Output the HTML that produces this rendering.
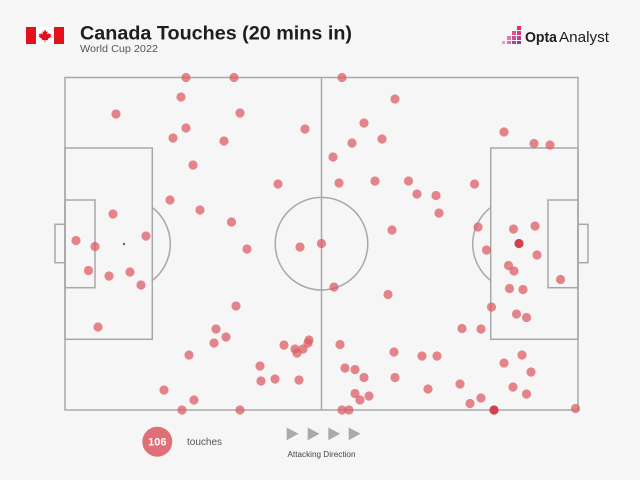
<!DOCTYPE html>
<html><head><meta charset="utf-8"><style>
html,body{margin:0;padding:0;background:#f6f6f6;}
svg{display:block;}
</style></head><body>
<svg width="640" height="480" viewBox="0 0 640 480" xmlns="http://www.w3.org/2000/svg">
<defs>
<marker id="dot" markerWidth="10" markerHeight="10" refX="5" refY="5" markerUnits="userSpaceOnUse" overflow="visible">
<circle cx="5" cy="5" r="4.6" fill="#dc5c66" fill-opacity="0.75"/>
</marker>
</defs>
<rect x="0" y="0" width="640" height="480" fill="#f6f6f6"/>
<rect x="26" y="27" width="38" height="17" fill="#ffffff"/>
<rect x="26" y="27" width="10" height="17" fill="#e3101e"/>
<rect x="54" y="27" width="10" height="17" fill="#e3101e"/>
<path d="M45 29.5 L46.3 32 L47.6 31.3 L47.2 34.5 L49 33 L49.5 34.2 L51.2 33.8 L50.5 36 L51.5 36.5 L47.8 39 L48.2 40.3 L45.4 40 L45.4 42.5 L44.6 42.5 L44.6 40 L41.8 40.3 L42.2 39 L38.5 36.5 L39.5 36 L38.8 33.8 L40.5 34.2 L41 33 L42.8 34.5 L42.4 31.3 L43.7 32 Z" fill="#e3101e"/>
<text x="80" y="39.5" font-family="Liberation Sans, sans-serif" font-weight="bold" font-size="19" fill="#1e1e1e" textLength="272" lengthAdjust="spacingAndGlyphs">Canada Touches (20 mins in)</text>
<text x="80" y="52" font-family="Liberation Sans, sans-serif" font-size="10" fill="#555" textLength="78" lengthAdjust="spacingAndGlyphs">World Cup 2022</text>
<g>
<rect x="517" y="26" width="4" height="4" fill="#e0306a"/>
<rect x="517" y="31" width="4" height="4" fill="#d23a80"/>
<rect x="512" y="31" width="4" height="4" fill="#e0508a"/>
<rect x="517" y="36" width="4" height="4" fill="#b53f9a"/>
<rect x="512" y="36" width="4" height="4" fill="#c84a9a"/>
<rect x="507" y="36" width="4" height="4" fill="#e07aa8"/>
<rect x="517" y="41" width="4" height="3" fill="#8a3fa0"/>
<rect x="512" y="41" width="4" height="3" fill="#a04aa8"/>
<rect x="507" y="41" width="4" height="3" fill="#c07ab8"/>
<rect x="502" y="41" width="3" height="3" fill="#e0a0c8"/>
</g>
<text x="525" y="42" font-family="Liberation Sans, sans-serif" font-weight="bold" font-size="15" fill="#1e1e1e" textLength="32" lengthAdjust="spacingAndGlyphs">Opta</text>
<text x="559" y="42" font-family="Liberation Sans, sans-serif" font-size="15" fill="#1e1e1e" textLength="50" lengthAdjust="spacingAndGlyphs">Analyst</text>
<g fill="none" stroke="#a8a8a8" stroke-width="1.5">
<rect x="65" y="77.5" width="513" height="332.5"/>
<line x1="321.5" y1="77.5" x2="321.5" y2="410"/>
<circle cx="321.5" cy="243.7" r="46.3"/>
<rect x="65" y="148" width="87.3" height="191.3"/>
<rect x="65" y="200" width="30" height="87.7"/>
<rect x="55" y="224.3" width="10" height="38.4"/>
<path d="M152.3 207.5 A46 46 0 0 1 152.3 280.5"/>
<rect x="490.7" y="148" width="87.3" height="191.3"/>
<rect x="548" y="200" width="30" height="87.7"/>
<rect x="578" y="224.3" width="10" height="38.4"/>
<path d="M490.7 207.5 A46 46 0 0 0 490.7 280.5"/>
</g>
<circle cx="124" cy="244" r="1.2" fill="#666"/>
<polyline fill="none" stroke="none" marker-start="url(#dot)" marker-mid="url(#dot)" marker-end="url(#dot)" points="186,77.5 234,77.5 181,97 116,114 186,128 173,138 224,141 193,165 170,200 113,214 200,210 231.5,222 146,236 76,240.5 95,246.5 88.5,270.5 109,276 130,272 141,285 98,327 236,306 216,329 226,337 214,343 189,355 164,390 194,400 182,410 240,113 305,129 342,77.5 395,99 364,123 352,143 382,139 333,157 278,184 339,183 375,181 408.5,181 392,230 321.5,243.5 300,247 247,249 334,287 388,294.5 284,345 295,349 297,353 303,349 308,343 309,340 340,344.5 394,352 260,366 345,368 355,369.5 364,377.5 395,377.5 261,381 275,379 299,380 355,393.5 369,396 360,400 240,410 342,410 349,410 504,132 534,143.5 550,145 417,194 436,195.5 474.5,184 439,213 478,227 513.5,229 535,226 486.5,250 537,255 508.5,265.5 514,271 560.5,279.5 509.5,288.5 523,289.5 491.5,307 516.5,314 526.5,317.5 462,328.5 481,329 422,356 437,356 522,355 504,363 531,372 428,389 460,384 513,387 526.5,394 481,398 470,403.5 575.5,408.5"/>
<circle cx="519" cy="243.5" r="4.6" fill="#d4404c"/>
<circle cx="494" cy="410" r="4.6" fill="#d4404c"/>
<circle cx="157.3" cy="441.7" r="15" fill="#e07078"/>
<text x="157.3" y="445.6" text-anchor="middle" font-family="Liberation Sans, sans-serif" font-weight="bold" font-size="11" fill="#ffffff">106</text>
<text x="187" y="445" font-family="Liberation Sans, sans-serif" font-size="10" fill="#555">touches</text>
<g fill="#aaaaaa">
<path d="M286.7 427.5 L298.5 433.8 L286.7 440.2 Z"/>
<path d="M307.7 427.5 L319.5 433.8 L307.7 440.2 Z"/>
<path d="M328.3 427.5 L340.1 433.8 L328.3 440.2 Z"/>
<path d="M348.7 427.5 L360.5 433.8 L348.7 440.2 Z"/>
</g>
<text x="321.5" y="457" text-anchor="middle" font-family="Liberation Sans, sans-serif" font-size="8" fill="#444" textLength="68" lengthAdjust="spacingAndGlyphs">Attacking Direction</text>
</svg>
</body></html>
